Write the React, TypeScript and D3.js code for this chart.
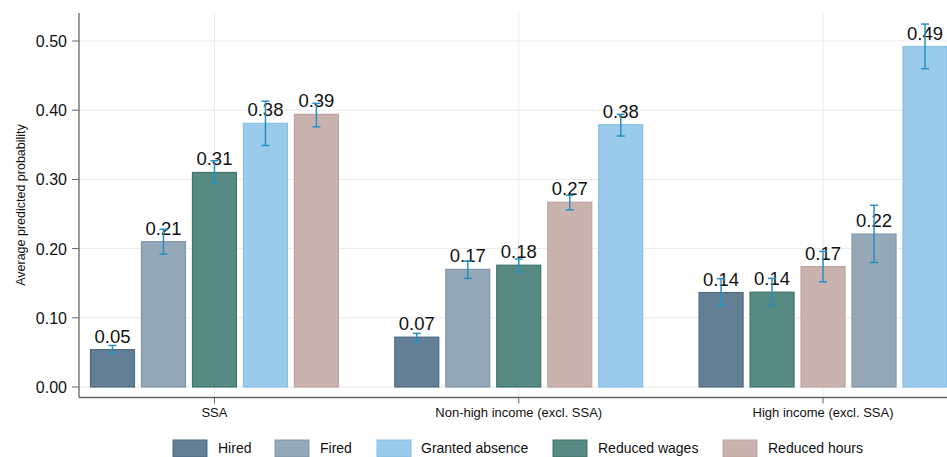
import React from "react";
import * as d3 from "d3";

const groups = ["SSA", "Non-high income (excl. SSA)", "High income (excl. SSA)"];
const series = ["Hired", "Fired", "Granted absence", "Reduced wages", "Reduced hours"];
const colors = ["#637f95", "#95a8b8", "#9acbeb", "#578a82", "#cab3ae"];
const strokes = ["#4b6a80", "#8095a8", "#88bfe4", "#3f7269", "#bea39d"];

// values per series, by group
const hired = [0.054, 0.072, 0.1365];
const fired = [0.21, 0.17, 0.221];
const grantedAbsence = [0.381, 0.379, 0.492];
const reducedWages = [0.31, 0.176, 0.137];
const reducedHours = [0.394, 0.267, 0.174];

const hiredLo = [0.049, 0.066, 0.118];
const hiredHi = [0.06, 0.0775, 0.1565];
const firedLo = [0.192, 0.157, 0.18];
const firedHi = [0.228, 0.182, 0.2626];
const absenceLo = [0.349, 0.3627, 0.46];
const absenceHi = [0.413, 0.394, 0.5245];
const wagesLo = [0.294, 0.166, 0.1175];
const wagesHi = [0.327, 0.185, 0.157];
const hoursLo = [0.376, 0.256, 0.152];
const hoursHi = [0.41, 0.277, 0.196];

const yTicks = [0, 0.1, 0.2, 0.3, 0.4, 0.5];

const values = [hired, fired, grantedAbsence, reducedWages, reducedHours];
const los = [hiredLo, firedLo, absenceLo, wagesLo, hoursLo];
const his = [hiredHi, firedHi, absenceHi, wagesHi, hoursHi];

const W = 947;
const H = 457;
const FONT = "'Liberation Sans', Arial, sans-serif";

export default function App() {
  const axisX = 79;
  const plotTop = 13;
  const axisY = 397.5;
  const right = 947;

  const y = d3.scaleLinear().domain([0, 0.5]).range([387, 41]);
  const x0 = d3.scaleBand<string>().domain(groups).range([90, 947.5]).paddingInner(0.182).paddingOuter(0);
  const x1 = d3.scaleBand<number>().domain(d3.range(5)).range([0, x0.bandwidth()]).paddingInner(0.118).paddingOuter(0);

  const bars: any[] = [];
  groups.forEach((g, gi) => {
    const order = d3.range(series.length).sort((a, b) => values[a][gi] - values[b][gi] || a - b);
    order.forEach((si, pos) => {
      bars.push({
        g, gi, si, pos,
        v: values[si][gi], lo: los[si][gi], hi: his[si][gi],
      });
    });
  });

  const legendItems = [
    { si: 0, sx: 173, tx: 218 },
    { si: 1, sx: 275, tx: 320 },
    { si: 2, sx: 377, tx: 421 },
    { si: 3, sx: 553, tx: 598 },
    { si: 4, sx: 723, tx: 768 },
  ];

  return (
    <svg width={W} height={H} style={{ position: "absolute", left: 0, top: 0, background: "#fff" }} fontFamily={FONT}>
      <rect x={0} y={0} width={W} height={H} fill="#fff" />
      {/* horizontal grid */}
      {yTicks.map((t) => (
        <line key={"gh" + t} x1={axisX} x2={right} y1={y(t)} y2={y(t)} stroke="#eaeaea" strokeWidth={1} />
      ))}
      {/* vertical grid */}
      {groups.map((g) => {
        const cx = (x0(g) as number) + x0.bandwidth() / 2;
        return <line key={"gv" + g} x1={cx} x2={cx} y1={plotTop} y2={axisY} stroke="#eaeaea" strokeWidth={1} />;
      })}
      {/* bars */}
      {bars.map((b) => {
        const bx = (x0(b.g) as number) + (x1(b.pos) as number);
        const bw = x1.bandwidth();
        return (
          <rect
            key={"b" + b.gi + "-" + b.si}
            x={bx + 0.5}
            y={y(b.v)}
            width={bw - 1}
            height={y(0) - y(b.v)}
            fill={colors[b.si]}
            stroke={strokes[b.si]}
            strokeWidth={1.2}
          />
        );
      })}
      {/* value labels */}
      {bars.map((b) => {
        const cx = (x0(b.g) as number) + (x1(b.pos) as number) + x1.bandwidth() / 2;
        return (
          <text key={"t" + b.gi + "-" + b.si} x={cx} y={y(b.v) - 7} textAnchor="middle" fontSize={18.5} fill="#111">
            {b.v.toFixed(2)}
          </text>
        );
      })}
      {/* error bars */}
      {bars.map((b) => {
        const cx = (x0(b.g) as number) + (x1(b.pos) as number) + x1.bandwidth() / 2;
        return (
          <g key={"e" + b.gi + "-" + b.si} stroke="#2790c2" strokeWidth={1.5}>
            <line x1={cx} x2={cx} y1={y(b.lo)} y2={y(b.hi)} />
            <line x1={cx - 4} x2={cx + 4} y1={y(b.lo)} y2={y(b.lo)} />
            <line x1={cx - 4} x2={cx + 4} y1={y(b.hi)} y2={y(b.hi)} />
          </g>
        );
      })}
      {/* axes */}
      <line x1={axisX} x2={axisX} y1={plotTop} y2={axisY} stroke="#666" strokeWidth={1.3} />
      <line x1={axisX} x2={right} y1={axisY} y2={axisY} stroke="#666" strokeWidth={1.3} />
      {yTicks.map((t) => (
        <g key={"yt" + t}>
          <line x1={axisX - 7} x2={axisX} y1={y(t)} y2={y(t)} stroke="#666" strokeWidth={1} />
          <text x={67} y={y(t) + 6} textAnchor="end" fontSize={16} fill="#111">
            {t.toFixed(2)}
          </text>
        </g>
      ))}
      {groups.map((g) => {
        const cx = (x0(g) as number) + x0.bandwidth() / 2;
        return (
          <g key={"xt" + g}>
            <line x1={cx} x2={cx} y1={axisY} y2={axisY + 6} stroke="#666" strokeWidth={1} />
            <text x={cx} y={417} textAnchor="middle" fontSize={13} fill="#111">
              {g}
            </text>
          </g>
        );
      })}
      <text transform={`translate(24.5,205) rotate(-90)`} textAnchor="middle" fontSize={12.5} fill="#111">
        Average predicted probability
      </text>
      {/* legend */}
      {legendItems.map((l) => (
        <g key={"lg" + l.si}>
          <rect x={l.sx} y={440} width={34} height={17} fill={colors[l.si]} stroke={strokes[l.si]} strokeWidth={1} />
          <text x={l.tx} y={453} fontSize={14} fill="#111">
            {series[l.si]}
          </text>
        </g>
      ))}
    </svg>
  );
}
